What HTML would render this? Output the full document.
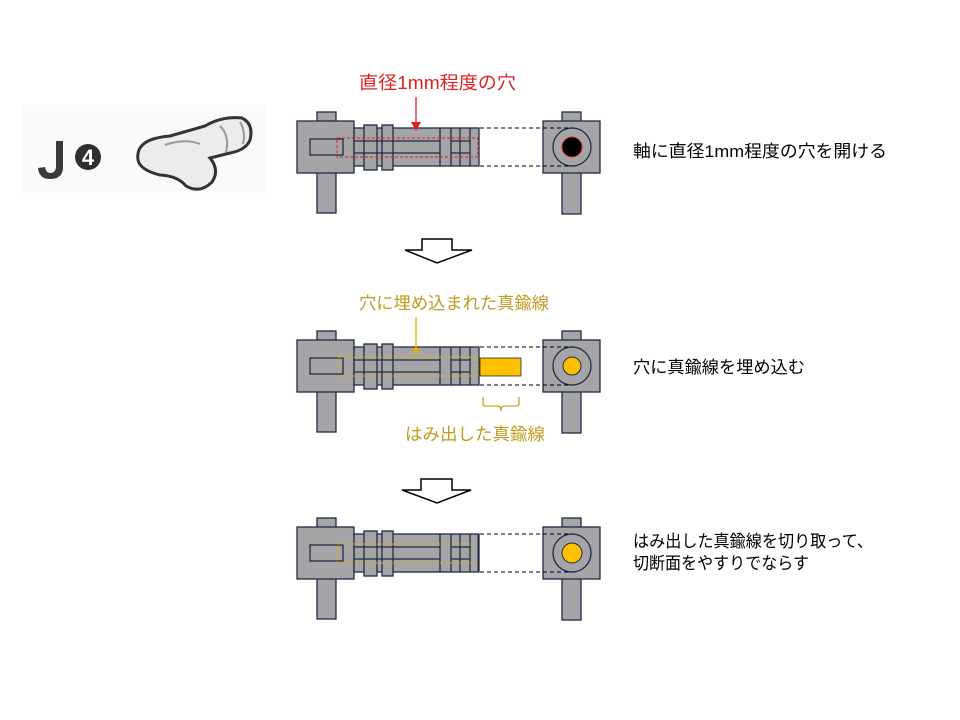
<!DOCTYPE html>
<html><head><meta charset="utf-8"><style>
html,body{margin:0;padding:0;background:#fff;}
svg{display:block;}
text{font-family:"Liberation Sans","Noto Sans CJK JP",sans-serif;}
</style></head><body>
<svg width="960" height="720" viewBox="0 0 960 720" xmlns="http://www.w3.org/2000/svg">
<defs>
<g id="part">
  <g fill="#A5A5A8" stroke="#1F2A44" stroke-width="1.3">
    <rect x="317" y="112" width="19" height="10"/>
    <rect x="317" y="172" width="19" height="41"/>
    <rect x="297" y="121" width="57" height="52"/>
    <rect x="354" y="128" width="125" height="38"/>
    <rect x="364" y="125" width="13" height="45"/>
    <rect x="382" y="125" width="11" height="45"/>
    <rect x="310" y="139" width="33" height="16"/>
    <line x1="354" y1="141" x2="440" y2="141"/>
    <line x1="354" y1="153" x2="440" y2="153"/>
    <line x1="440" y1="128" x2="440" y2="166"/>
    <line x1="451" y1="128" x2="451" y2="166"/>
    <line x1="460" y1="128" x2="460" y2="166"/>
    <line x1="470" y1="128" x2="470" y2="166"/>
    <line x1="451" y1="141" x2="470" y2="141"/>
    <line x1="451" y1="153" x2="470" y2="153"/>
    <rect x="562" y="112" width="19" height="10"/>
    <rect x="562" y="172" width="19" height="42"/>
    <rect x="543" y="121" width="57" height="52"/>
    <circle cx="572" cy="147" r="19"/>
  </g>
  <g stroke="#000" stroke-width="1" stroke-dasharray="4,3">
    <line x1="480" y1="128" x2="572" y2="128"/>
    <line x1="480" y1="166" x2="572" y2="166"/>
  </g>
</g>
</defs>

<!-- logo -->
<rect x="22" y="105" width="245" height="88" fill="#FAFAFA"/>
<path d="M56 141 L63 141 L63 167 Q63 179 50 179 Q39 179 38 168 L45 167 Q46 173 50 173 Q56 173 56 166 Z" fill="#3a3a3a"/>
<circle cx="88" cy="157" r="13" fill="#2f2f2f"/>
<text x="88" y="165" font-size="22" font-weight="bold" fill="#fff" text-anchor="middle">4</text>
<path d="M140 148 Q146 138 170 136 L205 126 Q222 116 242 118 Q254 124 250 140 Q246 150 230 153 L210 158 Q220 170 212 182 Q200 194 186 186 Q178 176 160 175 Q140 170 138 160 Q137 153 140 148 Z" fill="#ececec" stroke="#333" stroke-width="3"/>
<path d="M165 145 Q185 138 200 144 M220 126 Q230 136 226 152 M240 122 Q246 132 243 144" fill="none" stroke="#999" stroke-width="2"/>

<!-- step 1 -->
<use href="#part"/>
<rect x="337" y="138" width="141" height="19" fill="none" stroke="#E0201F" stroke-width="1" stroke-dasharray="3,2"/>
<circle cx="572" cy="147" r="10" fill="#000" stroke="#E0201F" stroke-width="1"/>
<text x="359" y="89" font-size="18" fill="#E0201F" textLength="157" lengthAdjust="spacingAndGlyphs">直径1mm程度の穴</text>
<line x1="416" y1="97" x2="416" y2="124" stroke="#E0201F" stroke-width="1.3"/>
<polygon points="411,122 421,122 416,131" fill="#E0201F"/>
<text x="633" y="157" font-size="17" fill="#000" textLength="254" lengthAdjust="spacingAndGlyphs">軸に直径1mm程度の穴を開ける</text>

<!-- arrow 1 -->
<polygon points="422,239 452,239 452,250 472,250 437,263 405,250 422,250" fill="#fff" stroke="#000" stroke-width="1.5"/>

<!-- step 2 -->
<g transform="translate(0,219)">
<use href="#part"/>
<rect x="339" y="138" width="139" height="19" fill="none" stroke="#E8B000" stroke-width="1" stroke-dasharray="3,2"/>
<circle cx="572" cy="147" r="9" fill="#FFC000" stroke="#1F2A44" stroke-width="1"/>
<rect x="480" y="139" width="41" height="18" fill="#FFC000" stroke="#1F2A44" stroke-width="0.8"/>
<line x1="416" y1="98" x2="416" y2="130" stroke="#E8B000" stroke-width="1.3"/>
<polygon points="412,129 420,129 416,136" fill="#E8B000"/>
<path d="M483 178 L483 185 Q483 187 486 187 L497 187 Q501 187 501 192 Q501 187 505 187 L516 187 Q519 187 519 185 L519 178" fill="none" stroke="#C9A227" stroke-width="1.3"/>
</g>
<text x="359" y="309" font-size="17" fill="#C09A1E" textLength="190" lengthAdjust="spacingAndGlyphs">穴に埋め込まれた真鍮線</text>
<text x="405" y="440" font-size="17" fill="#C09A1E" textLength="140" lengthAdjust="spacingAndGlyphs">はみ出した真鍮線</text>
<text x="633" y="373" font-size="17" fill="#000" textLength="172" lengthAdjust="spacingAndGlyphs">穴に真鍮線を埋め込む</text>

<!-- arrow 2 -->
<polygon points="421,479 452,479 452,490 471,490 437,503 402,490 421,490" fill="#fff" stroke="#000" stroke-width="1.5"/>

<!-- step 3 -->
<g transform="translate(0,406)">
<use href="#part"/>
<rect x="337" y="138" width="141" height="19" fill="none" stroke="#E8B000" stroke-width="1" stroke-dasharray="3,2"/>
<circle cx="572" cy="147" r="10" fill="#FFC000" stroke="#1F2A44" stroke-width="1"/>
<line x1="478.5" y1="128" x2="478.5" y2="166" stroke="#1F2A44" stroke-width="2"/>
</g>
<text x="633" y="547" font-size="17" fill="#000" textLength="240" lengthAdjust="spacingAndGlyphs">はみ出した真鍮線を切り取って、</text>
<text x="633" y="569" font-size="17" fill="#000" textLength="176" lengthAdjust="spacingAndGlyphs">切断面をやすりでならす</text>
</svg>
</body></html>
